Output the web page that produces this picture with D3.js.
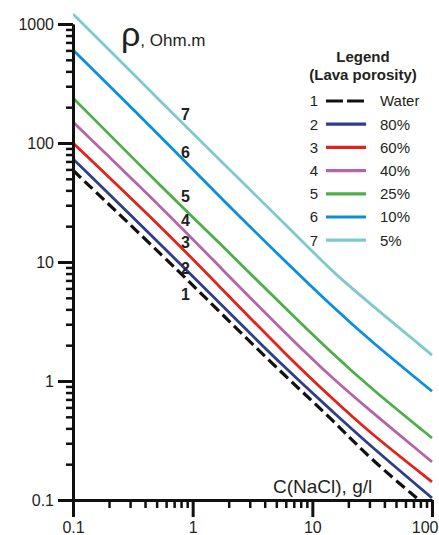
<!DOCTYPE html>
<html>
<head>
<meta charset="utf-8">
<script src="https://cdn.jsdelivr.net/npm/d3@7"></script>
<style>
  body { margin: 0; background: #fff; }
  svg { display: block; font-family: "Liberation Sans", Arial, sans-serif; }
  .axis path, .axis line { stroke: #111; }
  .axis text { fill: #231f20; font-size: 16px; }
</style>
</head>
<body>
<svg width="439" height="535"></svg>
<script>
// concentration (g/l) where the curves were read
const conc = [0.1, 0.64, 1.68, 6.4, 15.2, 30, 100];
const waterConc = [0.1, 0.64, 1.68, 6.4, 15.2, 30, 78];

// resistivity, Ohm.m
const water = [59, 10, 3.8, 1.02, 0.46, 0.225, 0.1];
const lava80 = [73.5, 11.9, 4.5, 1.19, 0.54, 0.29, 0.104];
const lava60 = [100, 16.9, 6.2, 1.56, 0.69, 0.37, 0.142];
const lava40 = [150, 24.8, 9.1, 2.34, 1.02, 0.57, 0.209];
const lava25 = [239, 36.6, 14.4, 3.8, 1.65, 0.89, 0.332];
const lava10 = [605, 96, 35.2, 9.4, 4.1, 2.21, 0.82];
const lava5 = [1213, 189, 72, 19.3, 8.0, 4.52, 1.65];

const seriesNames = ["Water", "80%", "60%", "40%", "25%", "10%", "5%"];
const seriesColors = ["#111111", "#2e3d8c", "#e2231a", "#b565a7", "#4caf47", "#0a8fdc", "#7fcaca"];

// where the curve numbers sit
const labelConc = 0.87;
const labelVal = [5.4, 8.9, 14.7, 22.5, 35.9, 84, 175];

const xMajor = [0.1, 1, 10, 100];
const yMajor = [0.1, 1, 10, 100, 1000];

const svg = d3.select("svg");

const x = d3.scaleLog().domain([0.1, 100]).range([73, 432]);
const y = d3.scaleLog().domain([0.1, 1000]).range([500, 24]);

const xMinor = x.ticks().filter(d => xMajor.indexOf(+d.toPrecision(3)) < 0);
const yMinor = y.ticks().filter(d => yMajor.indexOf(+d.toPrecision(3)) < 0);

svg.append("defs").append("clipPath").attr("id", "plot")
  .append("rect").attr("x", 73).attr("y", 0).attr("width", 366).attr("height", 500);

const series = [
  {xs: waterConc, ys: water},
  {xs: conc, ys: lava80},
  {xs: conc, ys: lava60},
  {xs: conc, ys: lava40},
  {xs: conc, ys: lava25},
  {xs: conc, ys: lava10},
  {xs: conc, ys: lava5}
];

const line = d3.line()
  .x(d => x(d[0]))
  .y(d => y(d[1]))
  .curve(d3.curveBasis);

svg.append("g")
  .attr("clip-path", "url(#plot)")
  .selectAll("path")
  .data(series)
  .enter().append("path")
  .attr("d", s => line(s.xs.map((c, i) => [c, s.ys[i]])))
  .attr("fill", "none")
  .attr("stroke", (s, i) => seriesColors[i])
  .attr("stroke-width", (s, i) => i === 0 ? 3.2 : 2.8)
  .attr("stroke-dasharray", (s, i) => i === 0 ? "11,5" : null);

// curve numbers
svg.append("g")
  .selectAll("text")
  .data(labelVal)
  .enter().append("text")
  .attr("x", x(labelConc))
  .attr("y", d => y(d))
  .attr("dy", "0.36em")
  .attr("text-anchor", "middle")
  .style("font-size", "16px")
  .style("font-weight", "bold")
  .style("fill", "#231f20")
  .text((d, i) => i + 1);

// axes
svg.append("g").attr("class", "axis")
  .attr("transform", "translate(73,0)")
  .call(d3.axisLeft(y).tickValues(yMinor).tickSize(7).tickSizeOuter(0).tickFormat(""))
  .call(g => g.selectAll("line").attr("stroke-width", 2.5));
svg.append("g").attr("class", "axis")
  .attr("transform", "translate(73,0)")
  .call(d3.axisLeft(y).tickValues(yMajor).tickSize(15).tickSizeOuter(0).tickPadding(4)
    .tickFormat(d => d3.format("~g")(d)))
  .call(g => g.select(".domain").attr("stroke-width", 3))
  .call(g => g.selectAll("line").attr("stroke-width", 3));

svg.append("g").attr("class", "axis")
  .attr("transform", "translate(0,500)")
  .call(d3.axisBottom(x).tickValues(xMinor).tickSize(8).tickSizeOuter(0).tickFormat(""))
  .call(g => g.selectAll("line").attr("stroke-width", 2.5));
const xAx = svg.append("g").attr("class", "axis")
  .attr("transform", "translate(0,500)")
  .call(d3.axisBottom(x).tickValues(xMajor).tickSize(17).tickSizeOuter(0).tickPadding(5)
    .tickFormat(d => d3.format("~g")(d)))
  .call(g => g.select(".domain").attr("stroke-width", 3))
  .call(g => g.selectAll("line").attr("stroke-width", 3));
xAx.selectAll("text").filter(d => d === 100).attr("text-anchor", "end").attr("x", 6);

// axis titles
const title = svg.append("text").attr("x", 121).attr("y", 46).style("fill", "#231f20");
title.append("tspan").style("font-size", "34px").text("ρ");
title.append("tspan").style("font-size", "17px").text(", Ohm.m");

svg.append("text")
  .attr("x", 273).attr("y", 493)
  .style("font-size", "19px")
  .style("fill", "#231f20")
  .text("C(NaCl), g/l");

// legend
const legend = svg.append("g").style("fill", "#231f20");
legend.append("text").attr("x", 363).attr("y", 62)
  .attr("text-anchor", "middle").style("font-size", "15px").style("font-weight", "bold")
  .text("Legend");
legend.append("text").attr("x", 363).attr("y", 80)
  .attr("text-anchor", "middle").style("font-size", "15px").style("font-weight", "bold")
  .text("(Lava porosity)");

const row = legend.selectAll("g.row")
  .data(seriesNames)
  .enter().append("g")
  .attr("class", "row")
  .attr("transform", (d, i) => "translate(0," + (101 + i * 23.2) + ")");
row.append("text").attr("x", 314).attr("dy", "0.36em")
  .attr("text-anchor", "middle").style("font-size", "15px")
  .text((d, i) => i + 1);
row.append("line")
  .attr("x1", 326).attr("x2", 366)
  .attr("stroke", (d, i) => seriesColors[i])
  .attr("stroke-width", 3.2)
  .attr("stroke-dasharray", (d, i) => i === 0 ? "17,4" : null);
row.append("text").attr("x", 380).attr("dy", "0.36em")
  .style("font-size", "15px")
  .text(d => d);
</script>
</body>
</html>
